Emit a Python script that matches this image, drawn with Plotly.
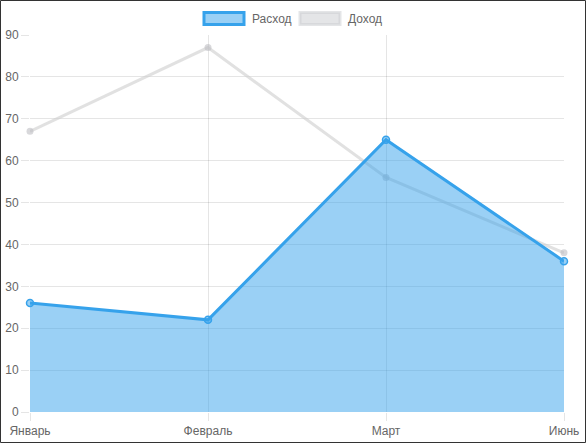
import plotly.graph_objects as go

months = ["Январь", "Февраль", "Март", "Июнь"]
expense = [26, 22, 65, 36]   # Расход
income = [67, 87, 56, 38]    # Доход
y_ticks = [0, 10, 20, 30, 40, 50, 60, 70, 80, 90]

BLUE = "rgb(54,162,235)"
BLUE_FILL = "rgba(54,162,235,0.5)"
GREY = "rgba(201,203,207,0.5)"
GREY_LINE = "rgba(205,205,205,0.6)"
FONT = "Arial, Liberation Sans, Helvetica, sans-serif"

W, H = 586, 443
ML, MR, MT, MB = 30, 22, 35, 31
PW, PH = W - ML - MR, H - MT - MB

def px(x):
    return (x - ML) / PW

def py(y):
    return (H - MB - y) / PH

fig = go.Figure()
fig.add_trace(go.Scatter(
    x=months, y=income, name="Доход", mode="lines+markers",
    line=dict(color=GREY_LINE, width=3),
    marker=dict(size=7, color="rgba(190,190,195,0.6)", line=dict(width=0)),
    cliponaxis=False, showlegend=False,
))
fig.add_trace(go.Scatter(
    x=months, y=expense, name="Расход", mode="lines+markers",
    fill="tozeroy", fillcolor=BLUE_FILL,
    line=dict(color=BLUE, width=3),
    marker=dict(size=7, color=BLUE_FILL, line=dict(color=BLUE, width=1.5)),
    cliponaxis=False, showlegend=False,
))

grid = "rgba(0,0,0,0.1)"
fig.update_layout(
    width=W, height=H, autosize=False,
    margin=dict(l=ML, r=MR, t=MT, b=MB, pad=0),
    paper_bgcolor="white", plot_bgcolor="white",
    font=dict(family=FONT, size=12, color="#666"),
    xaxis=dict(type="category", range=[0, 3], showgrid=True, gridcolor=grid,
               ticks="outside", ticklen=8, tickcolor=grid, zeroline=False,
               showline=False, fixedrange=True, automargin=False),
    yaxis=dict(range=[0, 90], tickvals=y_ticks, showgrid=True, gridcolor=grid,
               ticks="outside", ticklen=8, tickcolor=grid, zeroline=False,
               showline=False, fixedrange=True, automargin=False),
    shapes=[
        # outer border
        dict(type="rect", xref="paper", yref="paper",
             x0=px(0.5), x1=px(W - 0.5), y0=py(H - 0.5), y1=py(0.5),
             line=dict(color="#333", width=1), fillcolor="rgba(0,0,0,0)", layer="above"),
        # legend boxes
        dict(type="rect", xref="paper", yref="paper",
             x0=px(204), x1=px(244), y0=py(24.5), y1=py(12.5),
             line=dict(color=BLUE, width=3), fillcolor=BLUE_FILL),
        dict(type="rect", xref="paper", yref="paper",
             x0=px(300), x1=px(340), y0=py(24.5), y1=py(12.5),
             line=dict(color=GREY, width=3), fillcolor=GREY),
    ],
    annotations=[
        dict(text="Расход", xref="paper", yref="paper", x=px(250), y=py(18.5),
             xanchor="left", yanchor="middle", showarrow=False,
             font=dict(family=FONT, size=12, color="#666")),
        dict(text="Доход", xref="paper", yref="paper", x=px(346), y=py(18.5),
             xanchor="left", yanchor="middle", showarrow=False,
             font=dict(family=FONT, size=12, color="#666")),
    ],
)

fig.write_html("out.html", config={"displayModeBar": False},
               post_script="document.body.style.margin='0';document.body.style.overflow='hidden';")
